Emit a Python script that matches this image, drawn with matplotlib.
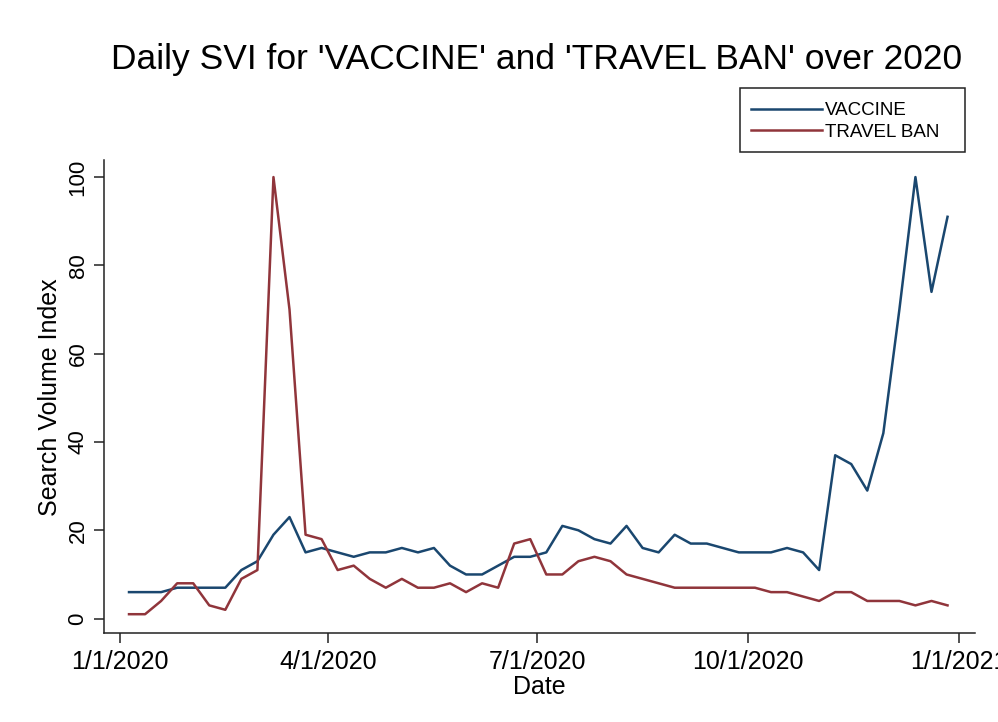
import matplotlib
matplotlib.use("Agg")
import matplotlib.pyplot as plt
import matplotlib.patches as mpatches
import pandas as pd

plt.rcParams["font.family"] = ["Liberation Sans", "DejaVu Sans"]

# weekly Google Trends search volume index, weeks starting 1/5/2020
weeks = pd.date_range("2020-01-05", periods=52, freq="7D")
vaccine = [6, 6, 6, 7, 7, 7, 7, 11, 13, 19, 23, 15, 16, 15, 14,
           15, 15, 16, 15, 16, 12, 10, 10, 12, 14, 14, 15, 21, 20,
           18, 17, 21, 16, 15, 19, 17, 17, 16, 15, 15, 15, 16, 15,
           11, 37, 35, 29, 42, 70, 100, 74, 91]
travel_ban = [1, 1, 4, 8, 8, 3, 2, 9, 11, 100, 70, 19, 18, 11, 12,
              9, 7, 9, 7, 7, 8, 6, 8, 7, 17, 18, 10, 10, 13,
              14, 13, 10, 9, 8, 7, 7, 7, 7, 7, 7, 6, 6, 5,
              4, 6, 6, 4, 4, 4, 3, 4, 3]
tick_dates = pd.to_datetime(["2020-01-01", "2020-04-01", "2020-07-01",
                             "2020-10-01", "2021-01-01"])
tick_labels = ["1/1/2020", "4/1/2020", "7/1/2020", "10/1/2020", "1/1/2021"]

navy = "#1a476f"
maroon = "#90353b"
W, H = 998, 722

fig = plt.figure(figsize=(W / 100, H / 100), dpi=100)
ax = fig.add_axes([0.104, 0.123, 0.873, 0.655])

l1, = ax.plot(weeks, vaccine, color=navy, lw=1.8, label="VACCINE")
l2, = ax.plot(weeks, travel_ban, color=maroon, lw=1.8, label="TRAVEL BAN")

ax.set_xlim(pd.Timestamp("2020-01-01") - pd.Timedelta(days=7),
            pd.Timestamp("2020-01-01") + pd.Timedelta(days=373))
ax.set_ylim(-3.3, 103.8)

ax.set_xticks(tick_dates)
ax.set_xticklabels(tick_labels, fontsize=18)
ax.set_yticks([0, 20, 40, 60, 80, 100])
ax.set_yticklabels(["0", "20", "40", "60", "80", "100"], fontsize=16,
                   rotation=90, va="center")

ax.spines["top"].set_visible(False)
ax.spines["right"].set_visible(False)
for s in ("left", "bottom"):
    ax.spines[s].set_linewidth(1.1)
    ax.spines[s].set_color("#222222")
ax.tick_params(direction="out", length=7, width=1.1, color="#222222")
ax.tick_params(axis="x", pad=5)
ax.tick_params(axis="y", pad=4)

ax.set_xlabel("Date", fontsize=18, labelpad=1)
ax.set_ylabel("Search Volume Index", fontsize=18, labelpad=4)

fig.text(0.538, 1 - 43 / H, "Daily SVI for 'VACCINE' and 'TRAVEL BAN' over 2020",
         ha="center", va="top", fontsize=25.5)

# legend box drawn separately so its size can be set exactly
fig.patches.append(mpatches.Rectangle((740 / W, 1 - 152 / H), 225 / W, 64 / H,
                                      transform=fig.transFigure, fill=False,
                                      edgecolor="#222222", linewidth=1.1))
fig.legend(handles=[l1, l2], loc="upper left",
           bbox_to_anchor=(751 / W, 1 - 102 / H),
           fontsize=13.5, frameon=False, handlelength=3.8, handletextpad=0.15,
           labelspacing=0.25, borderpad=0, borderaxespad=0)

fig.savefig("out.png", dpi=100, facecolor="white")
